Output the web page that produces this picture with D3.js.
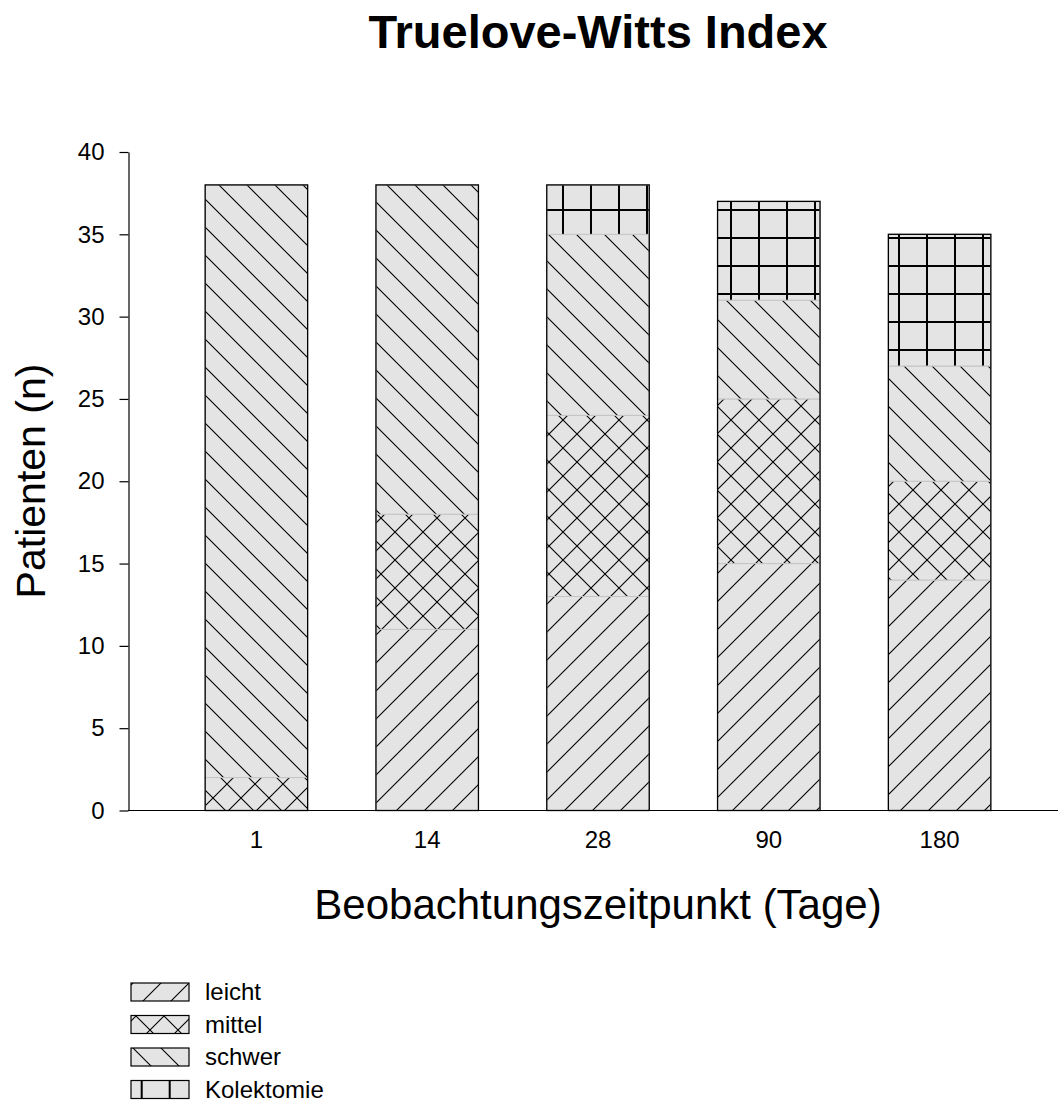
<!DOCTYPE html>
<html>
<head>
<meta charset="utf-8">
<script src="https://cdn.jsdelivr.net/npm/d3@7"></script>
<style>
  body { margin: 0; background: #fff; }
  svg { display: block; font-family: "Liberation Sans", Arial, sans-serif; }
</style>
</head>
<body>
<svg id="chart" width="1058" height="1102"></svg>
<script>
// Observation days (x categories)
const days = ["1", "14", "28", "90", "180"];
// Severity classes, stacked bottom to top
const severities = ["leicht", "mittel", "schwer", "Kolektomie"];
// Patient counts per class and day
const leicht     = [0, 11, 13, 15, 14];
const mittel     = [2, 7, 11, 10, 6];
const schwer     = [36, 20, 11, 6, 7];
const kolektomie = [0, 0, 3, 6, 8];
// y-axis ticks
const yTicks = [0, 5, 10, 15, 20, 25, 30, 35, 40];

const rows = days.map((d, i) => ({
  day: d,
  leicht: leicht[i],
  mittel: mittel[i],
  schwer: schwer[i],
  Kolektomie: kolektomie[i]
}));

const svg = d3.select("#chart");

const x = d3.scaleBand()
  .domain(days)
  .range([171, 1025])
  .paddingInner(0.4)
  .paddingOuter(0.2);

const y = d3.scaleLinear()
  .domain([0, 40])
  .range([810.5, 152]);

// Hatch patterns (28 px period)
const defs = svg.append("defs");
const P = 28;
const slashes = `M0,${P} L${P},0 M${-P/4},${P/4} L${P/4},${-P/4} M${P*3/4},${P*5/4} L${P*5/4},${P*3/4}`;
const backslashes = `M0,0 L${P},${P} M${-P/4},${P*3/4} L${P/4},${P*5/4} M${P*3/4},${-P/4} L${P*5/4},${P/4}`;
const hatchPath = {
  leicht: slashes,
  mittel: slashes + " " + backslashes,
  schwer: backslashes,
  Kolektomie: `M${P/2},0 V${P} M0,${P/2} H${P}`
};
// pattern phase used in the plot area and in the legend swatches
const plotPhase = {
  leicht: [5, -2], mittel: [3, 0], schwer: [8, 2], Kolektomie: [17, 0]
};
const legendPhase = {
  leicht: [2, 0], mittel: [5, 0.5], schwer: [2, 0], Kolektomie: [-3.3, -19]
};

function addPattern(id, k, phase) {
  const p = defs.append("pattern")
    .attr("id", id)
    .attr("patternUnits", "userSpaceOnUse")
    .attr("width", P)
    .attr("height", P)
    .attr("x", phase[0])
    .attr("y", phase[1]);
  p.append("rect").attr("width", P).attr("height", P).attr("fill", "#e4e4e4");
  p.append("path")
    .attr("d", hatchPath[k])
    .attr("stroke", "#000")
    .attr("stroke-width", 1.1)
    .attr("fill", "none")
    .attr("shape-rendering", k === "Kolektomie" ? "crispEdges" : "auto");
}
severities.forEach(k => {
  addPattern("hatch-" + k, k, plotPhase[k]);
  addPattern("legend-hatch-" + k, k, legendPhase[k]);
});

// Stacked segments
const stack = d3.stack().keys(severities);
const series = stack(rows);

const bars = svg.append("g");
series.forEach(s => {
  bars.selectAll(null)
    .data(s.filter(d => d[1] - d[0] > 0))
    .join("rect")
    .attr("x", d => x(d.data.day))
    .attr("y", d => y(d[1]))
    .attr("width", x.bandwidth())
    .attr("height", d => y(d[0]) - y(d[1]))
    .attr("fill", `url(#hatch-${s.key})`)
    .attr("stroke", "#c4c4c4")
    .attr("stroke-width", 1);
});

// Bar outlines
const totals = rows.map(r => severities.reduce((a, k) => a + r[k], 0));
bars.selectAll(null)
  .data(rows)
  .join("rect")
  .attr("x", d => x(d.day))
  .attr("y", (d, i) => y(totals[i]))
  .attr("width", x.bandwidth())
  .attr("height", (d, i) => y(0) - y(totals[i]))
  .attr("fill", "none")
  .attr("stroke", "#000")
  .attr("stroke-width", 1.3);

// Y axis
const yAxis = svg.append("g")
  .attr("transform", "translate(128.5,0)")
  .call(d3.axisLeft(y).tickValues(yTicks).tickSize(9).tickPadding(15).tickSizeOuter(0));
yAxis.select(".domain").attr("stroke", "#000").attr("stroke-width", 1.2);
yAxis.selectAll(".tick line").attr("stroke", "#000").attr("stroke-width", 1.2);
yAxis.selectAll(".tick text")
  .attr("font-size", 24)
  .attr("font-family", "Liberation Sans, Arial, sans-serif")
  .attr("fill", "#000");

// X axis
const xAxis = svg.append("g")
  .attr("transform", `translate(0,${y(0)})`)
  .call(d3.axisBottom(x).tickSize(0).tickPadding(20).tickSizeOuter(0));
xAxis.select(".domain").remove();
xAxis.append("line")
  .attr("x1", 128).attr("x2", 1058)
  .attr("stroke", "#000").attr("stroke-width", 1.2);
xAxis.selectAll(".tick text")
  .attr("font-size", 24)
  .attr("font-family", "Liberation Sans, Arial, sans-serif")
  .attr("fill", "#000");

// Titles
svg.append("text")
  .attr("x", 598).attr("y", 48)
  .attr("text-anchor", "middle")
  .attr("font-size", 47)
  .attr("font-weight", "bold")
  .text("Truelove-Witts Index");

svg.append("text")
  .attr("x", 598).attr("y", 919)
  .attr("text-anchor", "middle")
  .attr("font-size", 42)
  .text("Beobachtungszeitpunkt (Tage)");

svg.append("text")
  .attr("transform", "translate(45,481) rotate(-90)")
  .attr("text-anchor", "middle")
  .attr("font-size", 41)
  .text("Patienten (n)");

// Legend
const legend = svg.append("g");
severities.forEach((k, i) => {
  const g = legend.append("g").attr("transform", `translate(131,${983 + i * 32.5})`);
  g.append("rect")
    .attr("width", 58).attr("height", 18)
    .attr("fill", `url(#legend-hatch-${k})`)
    .attr("stroke", "#000").attr("stroke-width", 1.2);
  g.append("text")
    .attr("x", 74).attr("y", 17)
    .attr("font-size", 24)
    .text(k);
});
</script>
</body>
</html>
